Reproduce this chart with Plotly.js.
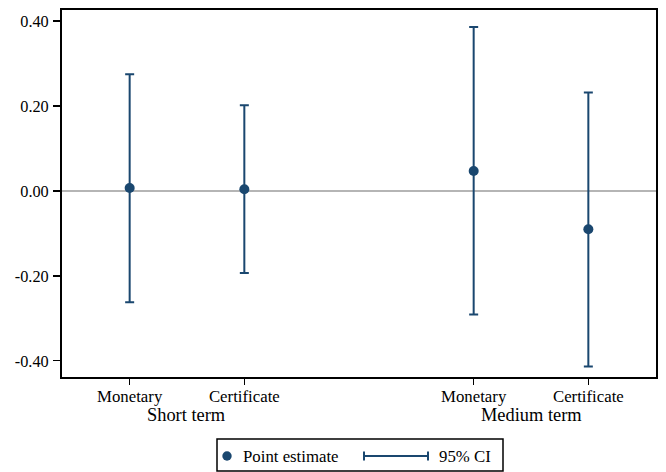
<!DOCTYPE html>
<html>
<head>
<meta charset="utf-8">
<script src="https://cdn.plot.ly/plotly-3.0.1.min.js"></script>
<style>
  html, body { margin: 0; padding: 0; background: #fff; }
  #chart { width: 666px; height: 472px; }
</style>
</head>
<body>
<div id="chart"></div>
<script>
// ---- Data ----
var categories = ["Monetary", "Certificate", "Monetary", "Certificate"];
var positions  = [1, 2, 4, 5];
var estimates  = [0.007, 0.004, 0.047, -0.090];
var ciLow      = [-0.262, -0.193, -0.291, -0.413];
var ciHigh     = [0.275, 0.202, 0.386, 0.232];
var groupNames = ["Short term", "Medium term"];
var groupCenters = [1.5, 4.5];
var yTickVals  = [-0.4, -0.2, 0, 0.2, 0.4];
var yTickText  = ["-0.40", "-0.20", "0.00", "0.20", "0.40"];
var legendLabels = ["Point estimate", "95% CI"];

var navy = "#1a476f";
var font = "Liberation Serif";

var plus = estimates.map(function (e, i) { return ciHigh[i] - e; });
var minus = estimates.map(function (e, i) { return e - ciLow[i]; });

var trace = {
  type: "scatter",
  mode: "markers",
  x: positions,
  y: estimates,
  marker: { color: navy, size: 10 },
  error_y: {
    type: "data", symmetric: false,
    array: plus, arrayminus: minus,
    color: navy, thickness: 2, width: 4.5
  },
  showlegend: false,
  hoverinfo: "x+y"
};

// plot-area geometry (px) for paper conversions of legend
var L = 62, R = 10, T = 10, B = 95, W = 666, H = 472;
var pw = W - L - R, ph = H - T - B;
function px(x) { return (x - L) / pw; }
function py(y) { return (H - B - y) / ph; }

var legY = py(456);
var shapes = [
  { type: "rect", xref: "paper", yref: "paper",
    x0: px(217), x1: px(503), y0: py(471), y1: py(439),
    line: { color: "#000", width: 1.5 }, fillcolor: "rgba(0,0,0,0)" },
  { type: "circle", xref: "paper", yref: "paper",
    xsizemode: "pixel", ysizemode: "pixel",
    xanchor: px(227), yanchor: legY,
    x0: -4.7, x1: 4.7, y0: -4.7, y1: 4.7,
    fillcolor: navy, line: { color: navy, width: 0 } },
  { type: "line", xref: "paper", yref: "paper",
    x0: px(364), x1: px(428), y0: legY, y1: legY,
    line: { color: navy, width: 2 } },
  { type: "line", xref: "paper", yref: "paper",
    x0: px(364), x1: px(364), y0: legY - 4.5 / ph, y1: legY + 4.5 / ph,
    line: { color: navy, width: 2 } },
  { type: "line", xref: "paper", yref: "paper",
    x0: px(428), x1: px(428), y0: legY - 4.5 / ph, y1: legY + 4.5 / ph,
    line: { color: navy, width: 2 } }
];

var annotations = groupNames.map(function (g, i) {
  return { text: g, xref: "x", yref: "paper", x: groupCenters[i], y: py(415),
    xanchor: "center", yanchor: "middle", showarrow: false,
    font: { family: font, size: 18.4, color: "#000" } };
});
annotations.push({ text: legendLabels[0], xref: "paper", yref: "paper",
  x: px(241), y: legY, xanchor: "left", yanchor: "middle", showarrow: false,
  font: { family: font, size: 16.8, color: "#000" } });
annotations.push({ text: legendLabels[1], xref: "paper", yref: "paper",
  x: px(437), y: legY, xanchor: "left", yanchor: "middle", showarrow: false,
  font: { family: font, size: 16.8, color: "#000" } });

var layout = {
  width: W, height: H,
  margin: { l: L, r: R, t: T, b: B, pad: 0 },
  paper_bgcolor: "#fff", plot_bgcolor: "#fff",
  font: { family: font, size: 16, color: "#000" },
  showlegend: false,
  xaxis: {
    range: [0.41, 5.59],
    tickvals: positions, ticktext: categories,
    ticks: "outside", ticklen: 6, tickwidth: 1.2, tickcolor: "#000",
    ticklabelstandoff: -3,
    showgrid: false, zeroline: false,
    showline: true, mirror: true, linecolor: "#000", linewidth: 2,
    tickfont: { family: font, size: 16.8, color: "#000" }
  },
  yaxis: {
    range: [-0.438, 0.426],
    tickvals: yTickVals, ticktext: yTickText,
    ticks: "outside", ticklen: 7, tickwidth: 1.2, tickcolor: "#000",
    ticklabelstandoff: 1,
    showgrid: false,
    zeroline: true, zerolinecolor: "#b5b5b5", zerolinewidth: 1.5,
    showline: true, mirror: true, linecolor: "#000", linewidth: 2,
    tickfont: { family: font, size: 16.3, color: "#000" }
  },
  shapes: shapes,
  annotations: annotations
};

Plotly.newPlot("chart", [trace], layout, { displayModeBar: false, staticPlot: true });
</script>
</body>
</html>
